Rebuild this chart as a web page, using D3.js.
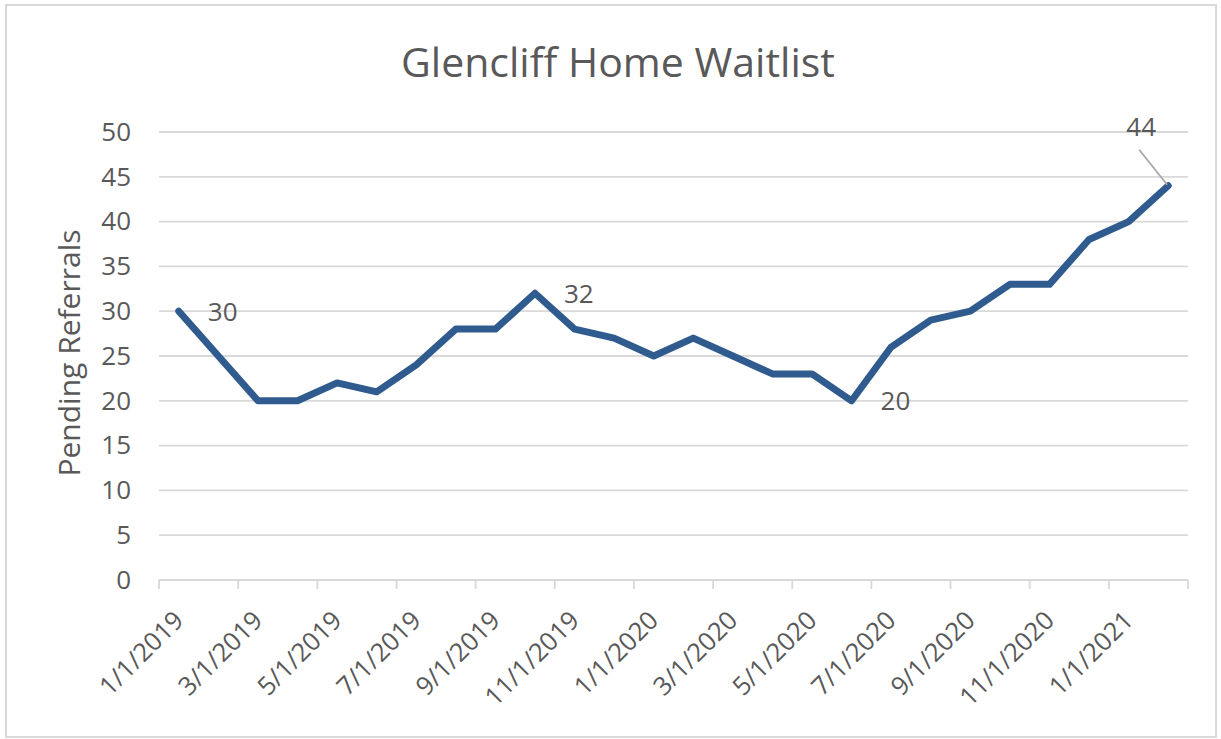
<!DOCTYPE html>
<html>
<head>
<meta charset="utf-8">
<script src="https://cdn.jsdelivr.net/npm/d3@7"></script>
<style>
  html, body { margin: 0; padding: 0; background: #fff; }
  svg { display: block; }
  text { font-family: "Open Sans", "Noto Sans", sans-serif; fill: #595959; }
</style>
</head>
<body>
<svg id="chart" width="1221" height="739"></svg>
<script>
// ---- data ----
const months = ["1/1/2019","2/1/2019","3/1/2019","4/1/2019","5/1/2019","6/1/2019","7/1/2019","8/1/2019","9/1/2019","10/1/2019","11/1/2019","12/1/2019",
                "1/1/2020","2/1/2020","3/1/2020","4/1/2020","5/1/2020","6/1/2020","7/1/2020","8/1/2020","9/1/2020","10/1/2020","11/1/2020","12/1/2020",
                "1/1/2021","2/1/2021"];
const referrals = [30,25,20,20,22,21,24,28,28,32,28,27,25,27,25,23,23,20,26,29,30,33,33,38,40,44];
const xTickLabels = ["1/1/2019","3/1/2019","5/1/2019","7/1/2019","9/1/2019","11/1/2019","1/1/2020","3/1/2020","5/1/2020","7/1/2020","9/1/2020","11/1/2020","1/1/2021"];
const yTicks = [0,5,10,15,20,25,30,35,40,45,50];
const labeledPoints = ["1/1/2019","10/1/2019","6/1/2020","2/1/2021"];
const chartTitle = "Glencliff Home Waitlist";
const yTitle = "Pending Referrals";

// ---- layout ----
const svg = d3.select("#chart");
const pLeft = 159, pRight = 1188, pTop = 132, pBottom = 580;
const textColor = "#595959", gridColor = "#d9d9d9", lineColor = "#2f5b8e";

svg.append("rect").attr("x", 6).attr("y", 5).attr("width", 1210).attr("height", 732)
  .attr("fill", "#fff").attr("stroke", "#d9d9d9").attr("stroke-width", 2);

const x = d3.scaleBand().domain(months).range([pLeft, pRight]).padding(0);
const y = d3.scaleLinear().domain([0, 50]).range([pBottom, pTop]);

// gridlines
svg.append("g").selectAll("line").data(yTicks.filter(d => d > 0)).join("line")
  .attr("x1", pLeft).attr("x2", pRight)
  .attr("y1", d => y(d)).attr("y2", d => y(d))
  .attr("stroke", gridColor).attr("stroke-width", 1.8);

// y axis labels
const yAxis = svg.append("g").attr("transform", `translate(${pLeft},0)`)
  .call(d3.axisLeft(y).tickValues(yTicks).tickSize(0).tickPadding(28));
yAxis.select(".domain").remove();
yAxis.selectAll("text").attr("font-size", 26).attr("fill", textColor)
  .style("font-family", '"Open Sans", sans-serif');

// x axis line and ticks
const xAxisG = svg.append("g");
xAxisG.append("line").attr("x1", pLeft).attr("x2", pRight).attr("y1", pBottom).attr("y2", pBottom)
  .attr("stroke", gridColor).attr("stroke-width", 1.8);
const tickPositions = months.map(m => x(m)).concat([pRight]);
xAxisG.selectAll("line.tick").data(tickPositions.filter((d, i) => i % 2 === 0)).join("line")
  .attr("class", "tick")
  .attr("x1", d => d).attr("x2", d => d).attr("y1", pBottom).attr("y2", pBottom + 9)
  .attr("stroke", gridColor).attr("stroke-width", 1.8);
xAxisG.selectAll("text").data(xTickLabels).join("text")
  .attr("transform", d => `translate(${x(d) + 26},${pBottom + 42}) rotate(-45)`)
  .attr("text-anchor", "end")
  .attr("font-size", 25.5)
  .text(d => d);

// line
const line = d3.line().x((d, i) => x(months[i]) + x.bandwidth() / 2).y(d => y(d));
svg.append("path").datum(referrals)
  .attr("d", line)
  .attr("fill", "none")
  .attr("stroke", lineColor)
  .attr("stroke-width", 7)
  .attr("stroke-linejoin", "round")
  .attr("stroke-linecap", "round");

// data labels
const px = m => x(m) + x.bandwidth() / 2;
const py = m => y(referrals[months.indexOf(m)]);
labeledPoints.forEach((m, k) => {
  const v = referrals[months.indexOf(m)];
  if (k < labeledPoints.length - 1) {
    svg.append("text").attr("x", px(m) + 29).attr("y", py(m)).attr("dy", "0.36em")
      .attr("font-size", 26).text(v);
  } else {
    svg.append("line").attr("x1", px(m) - 29).attr("y1", py(m) - 36)
      .attr("x2", px(m) - 1).attr("y2", py(m) - 1)
      .attr("stroke", "#a6a6a6").attr("stroke-width", 1.8);
    svg.append("text").attr("x", px(m) - 27).attr("y", py(m) - 59).attr("dy", "0.36em")
      .attr("text-anchor", "middle").attr("font-size", 26).text(v);
  }
});

// titles
svg.append("text").attr("x", 618).attr("y", 77).attr("text-anchor", "middle")
  .attr("font-size", 41).text(chartTitle);
svg.append("text").attr("transform", `translate(80,353) rotate(-90)`)
  .attr("text-anchor", "middle").attr("font-size", 30).text(yTitle);
</script>
</body>
</html>
